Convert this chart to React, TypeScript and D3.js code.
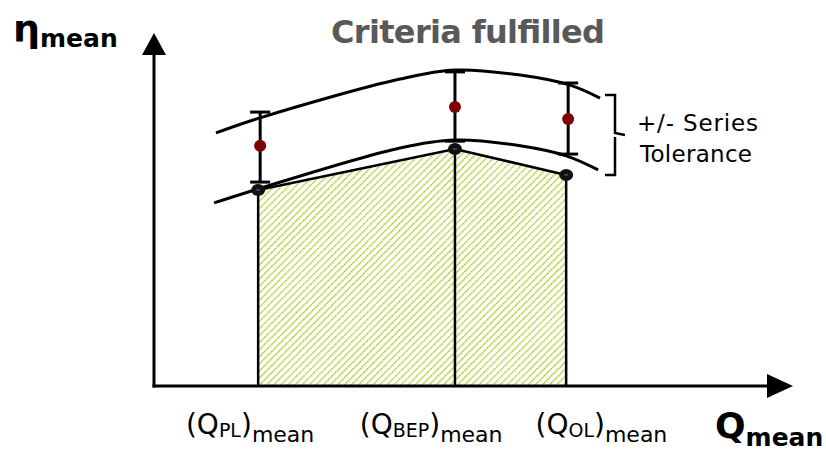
import React from 'react';
import * as d3 from 'd3';

// operating points (Q in % of axis, eta in % of axis)
const pointNames = ['PL', 'BEP', 'OL'];
const qPoints = [16.3, 47.1, 64.5];
const etaMeasured = [54.6, 66.0, 58.8];
const etaSeries = [66.9, 77.7, 74.4];
const tolUpper = [76.3, 87.5, 84.4];
const tolLower = [56.8, 68.2, 64.6];
// where each operating point label starts (Q units)
const labelQ = [5.0, 32.2, 59.7];

// tolerance band curves
const upperQ = [9.7, 16.6, 38.5, 47.1, 57.3, 65.1, 69.8];
const upperEta = [70.5, 74.7, 85.5, 88.0, 86.6, 83.8, 80.2];
const lowerQ = [9.4, 16.3, 38.5, 47.1, 57.3, 64.5, 69.5];
const lowerEta = [51.0, 54.9, 66.3, 68.5, 66.9, 64.1, 60.2];

const title = 'Criteria fulfilled';
const bracketLabel = ['+/- Series', 'Tolerance'];

const W = 826;
const H = 451;
const FONT = '"DejaVu Sans", Verdana, sans-serif';

const App = () => {
  const x0 = 154, x1 = 793, y0 = 386, y1 = 33;
  const x = d3.scaleLinear().domain([0, 100]).range([x0, x1]);
  const y = d3.scaleLinear().domain([0, 100]).range([y0, 27]);

  const curve = d3.line<[number, number]>()
    .x(d => x(d[0]))
    .y(d => y(d[1]))
    .curve(d3.curveCatmullRom.alpha(0.5));

  const upper = curve(upperQ.map((q, i) => [q, upperEta[i]]));
  const lower = curve(lowerQ.map((q, i) => [q, lowerEta[i]]));

  // hatched area under measured points
  const area = d3.area<number>()
    .x(d => x(d))
    .y0(y(0))
    .y1((d, i) => y(etaMeasured[i]));
  const areaPath = area(qPoints);

  // bracket for series tolerance
  const bx = 605, bTop = 95, bBot = 175, bMid = 135;
  const br = d3.path();
  br.moveTo(bx, bTop);
  br.lineTo(bx + 10, bTop);
  br.lineTo(bx + 10, bMid - 2);
  br.lineTo(bx + 20, bMid);
  br.moveTo(bx + 10, bMid + 2);
  br.lineTo(bx + 10, bBot);
  br.lineTo(bx, bBot);

  return (
    <svg width={W} height={H} style={{ position: 'absolute', left: 0, top: 0 }}>
      <defs>
        <pattern id="hatch" width="5" height="5" patternUnits="userSpaceOnUse" patternTransform="rotate(45)">
          <rect width="5" height="5" fill="#ffffff" />
          <line x1="0" y1="0" x2="0" y2="5" stroke="#99c200" strokeWidth="2.6" strokeDasharray="1.8 0.7" />
        </pattern>
      </defs>
      <rect width={W} height={H} fill="#ffffff" />

      <path d={areaPath || ''} fill="url(#hatch)" stroke="none" />
      {/* line joining measured points */}
      <path
        d={d3.line<number>().x(d => x(d)).y((d, i) => y(etaMeasured[i]))(qPoints) || ''}
        fill="none" stroke="#000" strokeWidth={2.5}
      />
      {qPoints.map((q, i) => (
        <line key={'v' + i} x1={x(q)} x2={x(q)} y1={y(0)} y2={y(etaMeasured[i])} stroke="#000" strokeWidth={2.5} />
      ))}

      <path d={upper || ''} fill="none" stroke="#000" strokeWidth={3} />
      <path d={lower || ''} fill="none" stroke="#000" strokeWidth={3} />

      {/* error bars */}
      {qPoints.map((q, i) => {
        const cx = x(q) + (i === 1 ? 0 : 2);
        return (
          <g key={'e' + i}>
            <line x1={cx} x2={cx} y1={y(tolUpper[i])} y2={y(tolLower[i])} stroke="#000" strokeWidth={3} />
            <line x1={cx - 10} x2={cx + 10} y1={y(tolUpper[i])} y2={y(tolUpper[i])} stroke="#000" strokeWidth={3} />
            <line x1={cx - 10} x2={cx + 10} y1={y(tolLower[i])} y2={y(tolLower[i])} stroke="#000" strokeWidth={3} />
            <circle cx={cx} cy={y(etaSeries[i])} r={6} fill="#800000" />
          </g>
        );
      })}
      {qPoints.map((q, i) => (
        <g key={'m' + i}>
          <ellipse cx={x(q)} cy={y(etaMeasured[i])} rx={7} ry={6} fill="#111" />
          <line x1={x(q) - 2} x2={x(q) + 2} y1={y(etaMeasured[i])} y2={y(etaMeasured[i])} stroke="#777" strokeWidth={1} />
        </g>
      ))}

      {/* axes */}
      <line x1={x0} x2={x0} y1={y0 + 1.5} y2={y1 + 20} stroke="#000" strokeWidth={3} />
      <path d={`M${x0},${y1} L${x0 - 12},${y1 + 22} L${x0 + 12},${y1 + 22} Z`} fill="#000" />
      <line x1={x0 - 1.5} x2={x1 - 20} y1={y0} y2={y0} stroke="#000" strokeWidth={3} />
      <path d={`M${x1},${y0} L${x1 - 26},${y0 - 12} L${x1 - 26},${y0 + 12} Z`} fill="#000" />

      <path d={br.toString()} fill="none" stroke="#000" strokeWidth={2.5} />
      <text x={637} y={131} fontFamily={FONT} fontSize={23} textLength={121}>{bracketLabel[0]}</text>
      <text x={640} y={162} fontFamily={FONT} fontSize={23} textLength={112}>{bracketLabel[1]}</text>

      <text x={331} y={43} fontFamily={FONT} fontSize={32} fontWeight="bold" fill="#595959" textLength={274}>{title}</text>

      {/* axis labels */}
      <text x={13} y={41} fontFamily={FONT} fontWeight="bold">
        <tspan fontSize={38}>η</tspan>
        <tspan fontSize={25} dy={6}>mean</tspan>
      </text>
      <text x={715} y={438} fontFamily={FONT} fontWeight="bold">
        <tspan fontSize={36}>Q</tspan>
        <tspan fontSize={25} dy={8}>mean</tspan>
      </text>

      {qPoints.map((q, i) => (
        <text key={'l' + i} x={x(labelQ[i])} y={434} fontFamily={FONT} fill="#000">
          <tspan fontSize={28}>(Q</tspan>
          <tspan fontSize={19} dy={3}>{pointNames[i]}</tspan>
          <tspan fontSize={28} dy={-3}>)</tspan>
          <tspan fontSize={22} dy={8}>mean</tspan>
        </text>
      ))}
    </svg>
  );
};

export default App;
